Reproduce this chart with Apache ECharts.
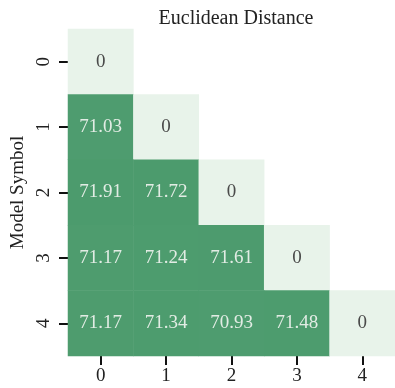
<!DOCTYPE html>
<html><head><meta charset="utf-8">
<script src="https://cdn.jsdelivr.net/npm/echarts@6/dist/echarts.min.js"></script>
<style>html,body{margin:0;padding:0;background:#fff}#c{width:395px;height:388px}</style>
</head><body><div id="c"></div>
<script>
const categories = ['0','1','2','3','4'];
const rows = [
  [0],
  [71.03, 0],
  [71.91, 71.72, 0],
  [71.17, 71.24, 71.61, 0],
  [71.17, 71.34, 70.93, 71.48, 0]
];
const title = 'Euclidean Distance';
const yName = 'Model Symbol';

const data = [];
rows.forEach((r, yi) => r.forEach((v, xi) => {
  data.push({value: [xi, yi, v],
    label: {color: v === 0 ? '#4a4a4a' : '#e2ece4'}});
}));
const font = 'Liberation Serif';
const chart = echarts.init(document.getElementById('c'));
chart.setOption({
  animation: false,
  title: {text: title, left: 231, top: 4, textAlign: 'center',
    textStyle: {fontFamily: font, fontWeight: 'normal', fontSize: 20, color: '#222'}},
  grid: {left: 68, top: 29, width: 327, height: 327, containLabel: false, outerBoundsMode: 'none'},
  xAxis: {type: 'category', data: categories, position: 'bottom',
    axisLine: {show: false}, splitArea: {show: false},
    axisTick: {show: true, alignWithLabel: true, length: 9, lineStyle: {color: '#111', width: 2}},
    axisLabel: {fontFamily: font, fontSize: 19, color: '#222', margin: 11}},
  yAxis: {type: 'category', data: categories, inverse: true,
    name: yName, nameLocation: 'middle', nameGap: 38, nameRotate: 90,
    nameTextStyle: {fontFamily: font, fontSize: 19, color: '#222'},
    axisLine: {show: false},
    axisTick: {show: true, alignWithLabel: true, length: 9, lineStyle: {color: '#111', width: 2}},
    axisLabel: {fontFamily: font, fontSize: 19, color: '#222', rotate: 90, margin: 14}},
  visualMap: {show: false, min: 0, max: 71.91, dimension: 2,
    inRange: {color: ['#e8f3ea', '#4c9b6d']}},
  series: [{type: 'heatmap', data: data,
    label: {show: true, fontFamily: font, fontSize: 19,
      formatter: p => p.value[2] === 0 ? '0' : p.value[2].toFixed(2)},
    emphasis: {disabled: true}}]
});
</script></body></html>
